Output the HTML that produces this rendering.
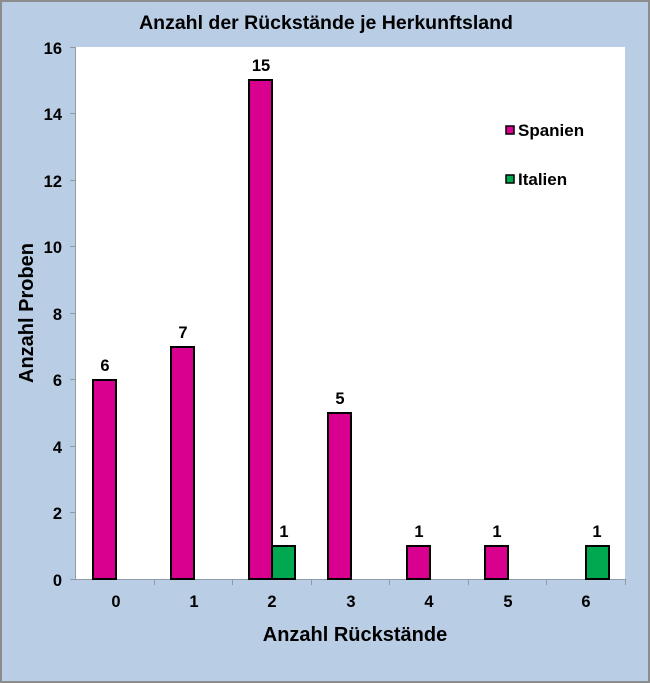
<!DOCTYPE html>
<html><head><meta charset="utf-8"><style>
body{margin:0;background:#fff}
svg{display:block;font-family:"Liberation Sans",Arial,sans-serif;font-weight:bold}
</style></head><body>
<svg width="650" height="683" viewBox="0 0 650 683">
<rect x="1" y="1" width="648" height="681" fill="#b9cde5" stroke="#8c8c8c" stroke-width="2"/>
<rect x="75" y="47" width="550" height="532" fill="#fff"/>
<text x="326" y="29" font-size="19.5" text-anchor="middle">Anzahl der Rückstände je Herkunftsland</text>
<g stroke="#8e9aa8" stroke-width="1">
<line x1="75.5" y1="47" x2="75.5" y2="579"/>
<line x1="75" y1="579.5" x2="625" y2="579.5"/>
<line x1="70" y1="47.5" x2="75" y2="47.5"/><line x1="70" y1="113.5" x2="75" y2="113.5"/>
<line x1="70" y1="180.5" x2="75" y2="180.5"/><line x1="70" y1="246.5" x2="75" y2="246.5"/>
<line x1="70" y1="313.5" x2="75" y2="313.5"/><line x1="70" y1="379.5" x2="75" y2="379.5"/>
<line x1="70" y1="446.5" x2="75" y2="446.5"/><line x1="70" y1="512.5" x2="75" y2="512.5"/>
<line x1="70" y1="579.5" x2="75" y2="579.5"/>
<line x1="154.5" y1="579" x2="154.5" y2="585"/><line x1="232.5" y1="579" x2="232.5" y2="585"/>
<line x1="311.5" y1="579" x2="311.5" y2="585"/><line x1="389.5" y1="579" x2="389.5" y2="585"/>
<line x1="468.5" y1="579" x2="468.5" y2="585"/><line x1="546.5" y1="579" x2="546.5" y2="585"/>
<line x1="625.5" y1="579" x2="625.5" y2="585"/>
</g>
<g font-size="16.5" text-anchor="end">
<text x="62" y="54">16</text><text x="62" y="120">14</text><text x="62" y="187">12</text>
<text x="62" y="253">10</text><text x="62" y="320">8</text><text x="62" y="386">6</text>
<text x="62" y="453">4</text><text x="62" y="519">2</text><text x="62" y="586">0</text>
</g>
<g font-size="16.5" text-anchor="middle">
<text x="116" y="607">0</text><text x="194" y="607">1</text><text x="272" y="607">2</text>
<text x="351" y="607">3</text><text x="429" y="607">4</text><text x="508" y="607">5</text><text x="586" y="607">6</text>
</g>
<text x="355" y="641" font-size="20" text-anchor="middle">Anzahl Rückstände</text>
<text transform="translate(33,313) rotate(-90)" font-size="20" text-anchor="middle">Anzahl Proben</text>
<g stroke="#000" stroke-width="2">
<rect x="93" y="380" width="23" height="199" fill="#d9008f"/>
<rect x="171" y="347" width="23" height="232" fill="#d9008f"/>
<rect x="249" y="80" width="23" height="499" fill="#d9008f"/>
<rect x="272" y="546" width="23" height="33" fill="#00a84f"/>
<rect x="328" y="413" width="23" height="166" fill="#d9008f"/>
<rect x="407" y="546" width="23" height="33" fill="#d9008f"/>
<rect x="485" y="546" width="23" height="33" fill="#d9008f"/>
<rect x="586" y="546" width="23" height="33" fill="#00a84f"/>
</g>
<g font-size="16.5" text-anchor="middle">
<text x="105" y="371">6</text><text x="183" y="338">7</text><text x="261" y="71">15</text>
<text x="284" y="537">1</text><text x="340" y="404">5</text><text x="419" y="537">1</text>
<text x="497" y="537">1</text><text x="597" y="537">1</text>
</g>
<rect x="506" y="126" width="8" height="8" fill="#d9008f" stroke="#000" stroke-width="1.5"/>
<rect x="506" y="175" width="8" height="8" fill="#00a84f" stroke="#000" stroke-width="1.5"/>
<text x="518" y="136" font-size="17">Spanien</text>
<text x="518" y="185" font-size="17">Italien</text>
</svg>
</body></html>
